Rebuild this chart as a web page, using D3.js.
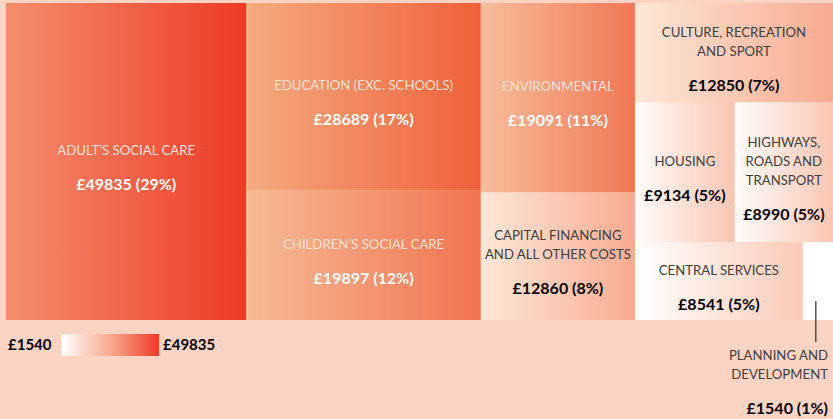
<!DOCTYPE html>
<html>
<head>
<meta charset="utf-8">
<script src="https://cdn.jsdelivr.net/npm/d3@7"></script>
<style>
  body { margin: 0; background: #fdd3c4; }
  svg { display: block; font-family: Lato, "Open Sans", sans-serif; }
</style>
</head>
<body>
<svg width="833" height="419"></svg>
<script>
// categories (| = line break in label) and spend values
const categories = [
  "ADULT’S SOCIAL CARE",
  "EDUCATION (EXC. SCHOOLS)",
  "CHILDREN’S SOCIAL CARE",
  "ENVIRONMENTAL",
  "CAPITAL FINANCING|AND ALL OTHER COSTS",
  "CULTURE, RECREATION|AND SPORT",
  "HOUSING",
  "HIGHWAYS,|ROADS AND|TRANSPORT",
  "CENTRAL SERVICES",
  "PLANNING AND|DEVELOPMENT"
];
const values = [49835, 28689, 19897, 19091, 12860, 12850, 9134, 8990, 8541, 1540];

const svg = d3.select("svg");
const margin = { top: 3, left: 6 };
const width = 827, height = 317;
const total = d3.sum(values);
const minV = d3.min(values), maxV = d3.max(values);

// colour ramp, white at the smallest value to red at the largest
const color = d3.scaleLinear()
  .domain([minV, 9000, 12855, 19500, 28689, maxV])
  .range(["#ffffff", "#fbc6b2", "#f8ab90", "#f17450", "#f06039", "#ee3a25"])
  .clamp(true);

const fmt = v => "£" + v;
const pct = v => Math.round(v / total * 100) + "%";

const data = categories.map((c, i) => ({ name: c, value: values[i] }));
const root = d3.hierarchy({ children: data })
  .sum(d => d.value || 0)
  .sort((a, b) => b.value - a.value);

d3.treemap()
  .tile(d3.treemapSquarify.ratio(1))
  .size([width, height])(root);

svg.append("rect").attr("width", 833).attr("height", 419).attr("fill", "#fdd3c4");

const defs = svg.append("defs");
const g = svg.append("g").attr("transform", `translate(${margin.left},${margin.top})`);

const leaves = root.leaves();

leaves.forEach((d, i) => {
  const right = d3.hsl(color(d.value));
  const left = d3.hsl(right);
  left.l = Math.min(1, left.l + 0.15);
  left.h = left.h + 9;
  const grad = defs.append("linearGradient").attr("id", "cell" + i)
    .attr("x1", "0%").attr("x2", "100%").attr("y1", "0%").attr("y2", "0%");
  grad.append("stop").attr("offset", "0%").attr("stop-color", left.formatHex());
  grad.append("stop").attr("offset", "100%").attr("stop-color", right.formatHex());
  d.gradId = "cell" + i;
  d.light = right.l > 0.7;
});

const cell = g.selectAll(".cell")
  .data(leaves)
  .enter()
  .append("g")
  .attr("class", "cell");

cell.append("rect")
  .attr("x", d => d.x0)
  .attr("y", d => d.y0)
  .attr("width", d => d.x1 - d.x0)
  .attr("height", d => d.y1 - d.y0)
  .attr("fill", d => `url(#${d.gradId})`);

const lineH = 19, valGap = 34;

cell.each(function (d) {
  const sel = d3.select(this);
  const lines = d.data.name.split("|");
  const inside = (d.x1 - d.x0) > 50;
  const labelFill = d.light ? "#404040" : "#fde0d5";
  const valueFill = d.light ? "#000" : "#fff";
  let cx, top, anchor;
  if (inside) {
    const block = (lines.length - 1) * lineH + valGap;
    cx = (d.x0 + d.x1) / 2;
    top = (d.y0 + d.y1) / 2 + 6 - block / 2;
    anchor = "middle";
  } else {
    // too small: label sits below the chart with a leader line
    const lx = (d.x0 + d.x1) / 2 - 2;
    sel.append("line")
      .attr("x1", lx).attr("x2", lx)
      .attr("y1", d.y0 + 59).attr("y2", d.y1 + 22)
      .attr("stroke", "#000").attr("stroke-width", 1);
    cx = 822;
    top = d.y1 + 35;
    anchor = "end";
  }
  lines.forEach((l, k) => {
    sel.append("text")
      .attr("x", cx)
      .attr("y", top + k * lineH)
      .attr("dy", "0.35em")
      .attr("text-anchor", anchor)
      .attr("fill", inside ? labelFill : "#404040")
      .style("font-size", "13.2px")
      .text(l);
  });
  sel.append("text")
    .attr("x", cx)
    .attr("y", top + (lines.length - 1) * lineH + valGap)
    .attr("dy", "0.35em")
    .attr("text-anchor", anchor)
    .attr("fill", inside ? valueFill : "#000")
    .style("font-size", "16px")
    .style("font-weight", "bold")
    .text(`${fmt(d.value)} (${pct(d.value)})`);
});

// legend
const legend = svg.append("g").attr("transform", "translate(0,334)");
const lg = defs.append("linearGradient").attr("id", "legendGrad");
[0, 0.5, 1].forEach(t => {
  lg.append("stop").attr("offset", t * 100 + "%")
    .attr("stop-color", color(d3.quantile(values.slice().sort(d3.ascending), t)));
});
legend.append("rect").attr("x", 61).attr("width", 98).attr("height", 22).attr("fill", "url(#legendGrad)");
legend.append("text").attr("x", 8).attr("y", 11).attr("dy", "0.35em")
  .style("font-size", "15px").style("font-weight", "bold").text(fmt(minV));
legend.append("text").attr("x", 163).attr("y", 11).attr("dy", "0.35em")
  .style("font-size", "15px").style("font-weight", "bold").text(fmt(maxV));
</script>
</body>
</html>
